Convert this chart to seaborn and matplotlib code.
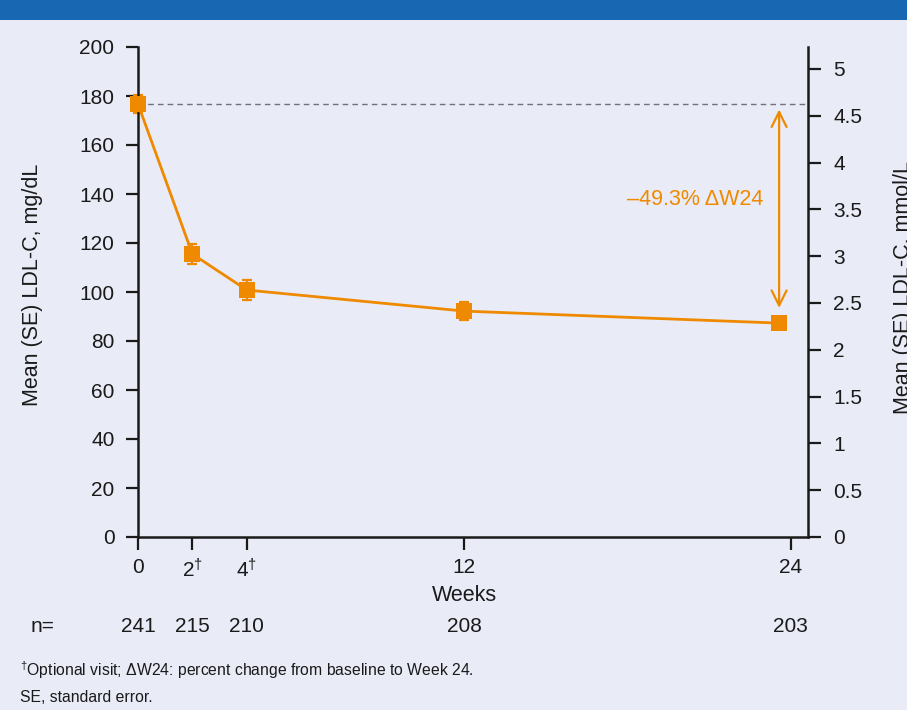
import matplotlib
matplotlib.use("Agg")
import matplotlib.pyplot as plt
import seaborn as sns
import pandas as pd
from matplotlib.patches import Rectangle

# Scheduled visit weeks (axis ticks) and mean study week at which each visit was plotted
visit_weeks = [0, 2, 4, 12, 24]
plot_weeks = [0, 2, 4, 12, 23.57]
# Mean LDL-C (mg/dL) with standard errors
mean_ldl = [176.7, 115.5, 100.8, 92.2, 87.3]
se_ldl = [3.6, 4.0, 4.0, 3.6, 2.0]
n_patients = [241, 215, 210, 208, 203]
week_labels = ["0", "2$^{†}$", "4$^{†}$", "12", "24"]
change_label = "\u201349.3% \u0394W24"

left_ticks = [0, 20, 40, 60, 80, 100, 120, 140, 160, 180, 200]
right_ticks = [0, 0.5, 1, 1.5, 2, 2.5, 3, 3.5, 4, 4.5, 5]
right_labels = ["0", "0.5", "1", "1.5", "2", "2.5", "3", "3.5", "4", "4.5", "5"]

ORANGE = "#ef8a00"
BG = "#e9ebf6"
BLUE = "#1767b2"
INK = "#1a1a1a"
FS = 15
FS_LABEL = 15.5

sns.set_theme(style="ticks")
plt.rcParams["font.family"] = ["Liberation Sans", "DejaVu Sans"]
plt.rcParams["mathtext.fontset"] = "custom"
plt.rcParams["mathtext.rm"] = "Liberation Sans"
plt.rcParams["mathtext.it"] = "Liberation Sans"

df = pd.DataFrame({"week": plot_weeks, "ldl": mean_ldl, "se": se_ldl})

fig = plt.figure(figsize=(9.07, 7.10), dpi=100, facecolor=BG)
ax = fig.add_axes([138 / 907, 1 - 537 / 710, 670 / 907, 490 / 710])
ax.set_facecolor(BG)

# header band
fig.add_artist(Rectangle((0, 1 - 20 / 710), 1, 20 / 710, transform=fig.transFigure,
                         facecolor=BLUE, edgecolor="none"))

# baseline reference line
ax.axhline(mean_ldl[0], color="#707080", lw=1.0, ls=(0, (4, 3)), zorder=1)

ax.errorbar(df["week"], df["ldl"], yerr=df["se"], fmt="none", ecolor=ORANGE,
            elinewidth=1.6, capsize=3.8, capthick=1.6, zorder=2, clip_on=False)
sns.lineplot(data=df, x="week", y="ldl", ax=ax, color=ORANGE, lw=2.0,
             marker="s", markersize=11, markeredgewidth=0, zorder=3, clip_on=False)

# change from baseline arrow
ax.annotate("", xy=(plot_weeks[-1], 93.5), xytext=(plot_weeks[-1], 174.5),
            arrowprops=dict(arrowstyle="<->,head_length=0.9,head_width=0.45",
                            color=ORANGE, lw=1.6, shrinkA=0, shrinkB=0))
ax.text(22.98, 137.6, change_label, color=ORANGE, fontsize=FS_LABEL,
        ha="right", va="center")

ax.set_xlim(0, 670 / 27.2)
ax.set_ylim(0, 200)
ax.set_xticks(visit_weeks)
ax.set_xticklabels(week_labels)
ax.set_yticks(left_ticks)
ax.tick_params(axis="both", labelsize=FS, length=9, width=1.6, color=INK,
               labelcolor=INK, direction="out")
ax.tick_params(axis="y", pad=8)
ax.tick_params(axis="x", pad=6)
ax.set_xlabel("Weeks", fontsize=FS_LABEL, color=INK)
ax.set_ylabel("Mean (SE) LDL-C, mg/dL", fontsize=FS_LABEL, color=INK)
ax.xaxis.set_label_coords(0.488, -0.098)
ax.yaxis.set_label_coords(-0.142, 0.515)
for side in ["left", "bottom"]:
    ax.spines[side].set_linewidth(1.8)
    ax.spines[side].set_color(INK)
ax.spines["top"].set_visible(False)
ax.spines["right"].set_visible(False)

ax2 = ax.twinx()
ax2.set_ylim(0, 490 / 93.6)
ax2.set_yticks(right_ticks)
ax2.set_yticklabels(right_labels)
ax2.tick_params(axis="y", labelsize=FS, length=9, width=1.6, color=INK,
                labelcolor=INK, direction="out", pad=9)
ax2.spines["right"].set_linewidth(1.8)
ax2.spines["right"].set_color(INK)
for side in ["top", "left", "bottom"]:
    ax2.spines[side].set_visible(False)
fig.text(903 / 907, 1 - 288 / 710, "Mean (SE) LDL-C, mmol/L", rotation=90,
         ha="center", va="center", fontsize=FS_LABEL, color=INK)

# patients at each visit
fig.text(43 / 907, 1 - 626 / 710, "n=", fontsize=FS, ha="center", va="center", color=INK)
for w, n in zip(visit_weeks, n_patients):
    xf = (138 + w * 27.2) / 907
    fig.text(xf, 1 - 626 / 710, str(n), fontsize=FS, ha="center", va="center", color=INK)

fig.text(20 / 907, 1 - 670 / 710,
         "$^{†}$Optional visit; \u0394W24: percent change from baseline to Week 24.",
         fontsize=11.3, ha="left", va="center", color=INK)
fig.text(20 / 907, 1 - 697 / 710, "SE, standard error.", fontsize=11.3,
         ha="left", va="center", color=INK)

fig.savefig("out.png", dpi=100, facecolor=BG)
